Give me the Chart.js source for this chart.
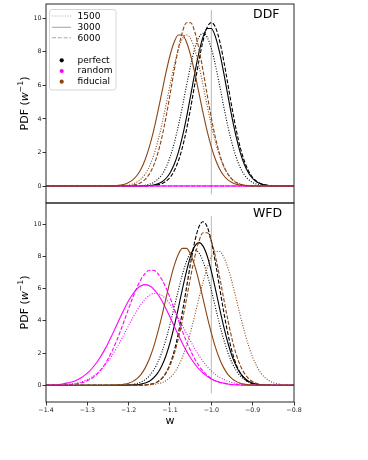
<!DOCTYPE html>
<html><head><meta charset="utf-8">
<script src="https://cdn.jsdelivr.net/npm/chart.js@4.4.1/dist/chart.umd.min.js"></script>
<style>
html,body{margin:0;padding:0;background:#fff;}
#wrap{position:relative;width:368px;height:460px;overflow:hidden;background:#fff;}
#c1{position:absolute;left:0;top:0;}
#c2{position:absolute;left:0;top:200px;}
</style></head><body>
<div id="wrap"><canvas id="c1" width="368" height="204"></canvas><canvas id="c2" width="368" height="260"></canvas></div>
<script>
// ---------- DATA ----------
const w = [-1.40,-1.39,-1.38,-1.37,-1.36,-1.35,-1.34,-1.33,-1.32,-1.31,
-1.30,-1.29,-1.28,-1.27,-1.26,-1.25,-1.24,-1.23,-1.22,-1.21,
-1.20,-1.19,-1.18,-1.17,-1.16,-1.15,-1.14,-1.13,-1.12,-1.11,
-1.10,-1.09,-1.08,-1.07,-1.06,-1.05,-1.04,-1.03,-1.02,-1.01,
-1.00,-0.99,-0.98,-0.97,-0.96,-0.95,-0.94,-0.93,-0.92,-0.91,
-0.90,-0.89,-0.88,-0.87,-0.86,-0.85,-0.84,-0.83,-0.82,-0.81,
-0.80];

// DDF panel
const ddfPerfect1500 = [0,0,0,0,0,0,0,0,0,0, 0,0,0,0,0,0,0,0,0,0,
0,0,0.01,0.03,0.05,0.11,0.21,0.39,0.67,1.10,
1.72,2.54,3.56,4.74,6.00,7.20,8.20,8.87,9.10,8.87,
8.20,7.20,6.00,4.74,3.56,2.54,1.72,1.10,0.67,0.39,
0.21,0.11,0.05,0.03,0.01,0,0,0,0,0, 0];
const ddfPerfect3000 = [0,0,0,0,0,0,0,0,0,0, 0,0,0,0,0,0,0,0,0,0,
0,0,0,0,0.01,0.03,0.06,0.13,0.24,0.45,
0.78,1.28,1.99,2.94,4.09,5.40,6.74,7.96,8.89,9.39,
9.39,8.89,7.96,6.74,5.40,4.09,2.94,1.99,1.28,0.78,
0.45,0.24,0.13,0.06,0.03,0.01,0,0,0,0, 0];
const ddfPerfect6000 = [0,0,0,0,0,0,0,0,0,0, 0,0,0,0,0,0,0,0,0,0,
0,0,0,0,0,0.01,0.03,0.07,0.14,0.28,
0.51,0.90,1.48,2.30,3.37,4.66,6.08,7.47,8.66,9.46,
9.74,9.46,8.66,7.47,6.08,4.66,3.37,2.30,1.48,0.90,
0.51,0.28,0.14,0.07,0.03,0.01,0,0,0,0, 0];
const ddfRandom1500 = [0,0,0,0,0,0,0,0,0,0, 0,0,0,0,0,0,0,0,0,0, 0,0,0,0,0,0,0,0,0,0,
0,0,0,0,0,0,0,0,0,0, 0,0,0,0,0,0,0,0,0,0, 0,0,0,0,0,0,0,0,0,0, 0];
const ddfRandom3000 = [0,0,0,0,0,0,0,0,0,0, 0,0,0,0,0,0,0,0,0,0, 0,0,0,0,0,0,0,0,0,0,
0,0,0,0,0,0,0,0,0,0, 0,0,0,0,0,0,0,0,0,0, 0,0,0,0,0,0,0,0,0,0, 0];
const ddfRandom6000 = [0,0,0,0,0,0,0,0,0,0, 0,0,0,0,0,0,0,0,0,0, 0,0,0,0,0,0,0,0,0,0,
0,0,0,0,0,0,0,0,0,0, 0,0,0,0,0,0,0,0,0,0, 0,0,0,0,0,0,0,0,0,0, 0];
const ddfFiducial1500 = [0,0,0,0,0,0,0,0,0,0,
0,0,0,0,0,0,0,0.01,0.01,0.03,
0.06,0.13,0.24,0.42,0.72,1.16,1.79,2.61,3.63,4.79,
6.01,7.17,8.14,8.78,9.00,8.78,8.14,7.17,6.01,4.79,
3.63,2.61,1.79,1.16,0.72,0.42,0.24,0.13,0.06,0.03,
0.01,0.01,0,0,0,0,0,0,0,0, 0];
const ddfFiducial3000 = [0,0,0,0,0,0,0,0,0,0,
0,0,0,0,0,0.01,0.01,0.03,0.06,0.11,
0.21,0.37,0.63,1.02,1.58,2.33,3.26,4.36,5.55,6.73,
7.78,8.57,9.00,9.00,8.57,7.78,6.73,5.55,4.36,3.26,
2.33,1.58,1.02,0.63,0.37,0.21,0.11,0.06,0.03,0.01,
0.01,0,0,0,0,0,0,0,0,0, 0];
const ddfFiducial6000 = [0,0,0,0,0,0,0,0,0,0,
0,0,0,0,0,0,0,0,0,0.01,
0.02,0.05,0.10,0.21,0.40,0.71,1.20,1.91,2.87,4.07,
5.44,6.87,8.17,9.18,9.73,9.73,9.18,8.17,6.87,5.44,
4.07,2.87,1.91,1.20,0.71,0.40,0.21,0.10,0.05,0.02,
0.01,0,0,0,0,0,0,0,0,0, 0];

// WFD panel
const wfdPerfect1500 = [0,0,0,0,0,0,0,0,0,0,
0,0,0,0,0,0,0,0,0.01,0.01,
0.03,0.06,0.11,0.20,0.35,0.58,0.92,1.40,2.03,2.84,
3.78,4.83,5.89,6.88,7.69,8.22,8.40,8.22,7.69,6.88,
5.89,4.83,3.78,2.84,2.03,1.40,0.92,0.58,0.35,0.20,
0.11,0.06,0.03,0.01,0.01,0,0,0,0,0, 0];
const wfdPerfect3000 = [0,0,0,0,0,0,0,0,0,0, 0,0,0,0,0,0,0,0,0,0,
0.01,0.02,0.03,0.07,0.14,0.25,0.45,0.75,1.20,1.82,
2.64,3.64,4.78,5.97,7.09,8.03,8.64,8.86,8.64,8.03,
7.09,5.97,4.78,3.64,2.64,1.82,1.20,0.75,0.45,0.25,
0.14,0.07,0.03,0.02,0.01,0,0,0,0,0, 0];
const wfdPerfect6000 = [0,0,0,0,0,0,0,0,0,0, 0,0,0,0,0,0,0,0,0,0,
0,0,0,0.01,0.02,0.05,0.10,0.21,0.41,0.76,
1.31,2.11,3.21,4.56,6.08,7.61,8.94,9.84,10.16,9.84,
8.94,7.61,6.08,4.56,3.21,2.11,1.31,0.76,0.41,0.21,
0.10,0.05,0.02,0.01,0,0,0,0,0,0, 0];
const wfdRandom1500 = [0,0.01,0.01,0.02,0.03,0.05,0.08,0.12,0.17,0.25,
0.36,0.49,0.67,0.89,1.16,1.48,1.85,2.27,2.73,3.22,
3.71,4.19,4.64,5.04,5.36,5.58,5.70,5.70,5.58,5.36,
5.04,4.64,4.19,3.71,3.22,2.73,2.27,1.85,1.48,1.16,
0.89,0.67,0.49,0.36,0.25,0.17,0.12,0.08,0.05,0.03,
0.02,0.01,0.01,0,0,0,0,0,0,0, 0];
const wfdRandom3000 = [0.01,0.02,0.03,0.05,0.08,0.13,0.19,0.27,0.39,0.55,
0.75,1.01,1.32,1.69,2.12,2.60,3.13,3.68,4.24,4.77,
5.26,5.67,5.99,6.18,6.25,6.18,5.99,5.67,5.26,4.77,
4.24,3.68,3.13,2.60,2.12,1.69,1.32,1.01,0.75,0.55,
0.39,0.27,0.19,0.13,0.08,0.05,0.03,0.02,0.01,0.01,
0,0,0,0,0,0,0,0,0,0, 0];
const wfdRandom6000 = [0,0,0,0.01,0.01,0.03,0.04,0.07,0.12,0.18,
0.28,0.42,0.62,0.88,1.21,1.63,2.13,2.71,3.36,4.06,
4.77,5.45,6.07,6.58,6.95,7.14,7.14,6.95,6.58,6.07,
5.45,4.77,4.06,3.36,2.71,2.13,1.63,1.21,0.88,0.62,
0.42,0.28,0.18,0.12,0.07,0.04,0.03,0.01,0.01,0,
0,0,0,0,0,0,0,0,0,0, 0];
const wfdFiducial1500 = [0,0,0,0,0,0,0,0,0,0, 0,0,0,0,0,0,0,0,0,0,
0,0,0,0,0.01,0.02,0.05,0.09,0.16,0.28,
0.47,0.76,1.18,1.74,2.47,3.34,4.34,5.39,6.41,7.30,
7.96,8.31,8.31,7.96,7.30,6.41,5.39,4.34,3.34,2.47,
1.74,1.18,0.76,0.47,0.28,0.16,0.09,0.05,0.02,0.01, 0];
const wfdFiducial3000 = [0,0,0,0,0,0,0,0,0,0,
0,0,0,0,0,0,0.01,0.02,0.03,0.07,
0.13,0.24,0.41,0.68,1.08,1.63,2.35,3.25,4.27,5.37,
6.46,7.41,8.12,8.50,8.50,8.12,7.41,6.46,5.37,4.27,
3.25,2.35,1.63,1.08,0.68,0.41,0.24,0.13,0.07,0.03,
0.02,0.01,0,0,0,0,0,0,0,0, 0];
const wfdFiducial6000 = [0,0,0,0,0,0,0,0,0,0, 0,0,0,0,0,0,0,0,0,0,
0,0,0,0.01,0.02,0.05,0.11,0.22,0.42,0.74,
1.23,1.94,2.88,4.05,5.37,6.74,7.99,8.95,9.47,9.47,
8.95,7.99,6.74,5.37,4.05,2.88,1.94,1.23,0.74,0.42,
0.22,0.11,0.05,0.02,0.01,0,0,0,0,0, 0];

const xTickValues = [-1.4,-1.3,-1.2,-1.1,-1.0,-0.9,-0.8];
const xTickLabels = ['\u22121.4','\u22121.3','\u22121.2','\u22121.1','\u22121.0','\u22120.9','\u22120.8'];
const yTickValues = [0,2,4,6,8,10];
const yTickLabels = ['0','2','4','6','8','10'];
const refLineW = [-1.0,-1.0];
const refLineY = [-0.5,10.5];
const nObs = ['1500','3000','6000'];
const selections = ['perfect','random','fiducial'];
const panelNames = ['DDF','WFD'];

// ---------- STYLE ----------
const FONT = '"DejaVu Sans", "Liberation Sans", sans-serif';
Chart.defaults.font.family = FONT;
const colors = {perfect:'#000000', random:'#ff00ff', fiducial:'#8b4513'};
const dashes = {'1500':[1,1.6],'3000':[],'6000':[4,1.8]};

const series = {
  DDF: {perfect:{'1500':ddfPerfect1500,'3000':ddfPerfect3000,'6000':ddfPerfect6000},
        random:{'1500':ddfRandom1500,'3000':ddfRandom3000,'6000':ddfRandom6000},
        fiducial:{'1500':ddfFiducial1500,'3000':ddfFiducial3000,'6000':ddfFiducial6000}},
  WFD: {perfect:{'1500':wfdPerfect1500,'3000':wfdPerfect3000,'6000':wfdPerfect6000},
        random:{'1500':wfdRandom1500,'3000':wfdRandom3000,'6000':wfdRandom6000},
        fiducial:{'1500':wfdFiducial1500,'3000':wfdFiducial3000,'6000':wfdFiducial6000}}
};

function frameAndText(panelName, withLegend){
  return {id:'deco'+panelName, afterDraw(chart){
    const ctx = chart.ctx, a = chart.chartArea;
    ctx.save();
    // frame
    ctx.strokeStyle = '#262626'; ctx.lineWidth = 1;
    ctx.strokeRect(a.left, a.top, a.right - a.left, a.bottom - a.top);
    // panel name
    ctx.fillStyle = '#000'; ctx.font = '12.5px ' + FONT; ctx.textAlign = 'left'; ctx.textBaseline = 'middle';
    ctx.fillText(panelName, 253, a.top + 11);
    // y title  PDF (w^-1)
    const cy = (a.top + a.bottom) / 2;
    const parts = [
      {t:'PDF (', f:'11px ' + FONT, dy:0},
      {t:'w', f:'italic 11px ' + FONT, dy:0},
      {t:'\u22121', f:'7.7px ' + FONT, dy:-4},
      {t:')', f:'11px ' + FONT, dy:0}
    ];
    ctx.translate(25, cy); ctx.rotate(-Math.PI/2);
    let tot = 0;
    parts.forEach(p => { ctx.font = p.f; p.w = ctx.measureText(p.t).width; tot += p.w; });
    let x = -tot/2;
    parts.forEach(p => { ctx.font = p.f; ctx.fillText(p.t, x, p.dy); x += p.w; });
    ctx.restore();
    if (withLegend) {
      ctx.save();
      const bx = 49.5, by = 9.5, bw = 66.5, bh = 80.5, r = 2.5;
      ctx.beginPath();
      ctx.moveTo(bx + r, by); ctx.lineTo(bx + bw - r, by); ctx.quadraticCurveTo(bx + bw, by, bx + bw, by + r);
      ctx.lineTo(bx + bw, by + bh - r); ctx.quadraticCurveTo(bx + bw, by + bh, bx + bw - r, by + bh);
      ctx.lineTo(bx + r, by + bh); ctx.quadraticCurveTo(bx, by + bh, bx, by + bh - r);
      ctx.lineTo(bx, by + r); ctx.quadraticCurveTo(bx, by, bx + r, by); ctx.closePath();
      ctx.fillStyle = 'rgba(255,255,255,0.85)'; ctx.fill();
      ctx.strokeStyle = '#d6d6d6'; ctx.lineWidth = 1; ctx.stroke();
      ctx.font = '9px ' + FONT; ctx.textAlign = 'left'; ctx.textBaseline = 'middle';
      const rowsA = [16, 27.3, 37.7];
      nObs.forEach((s, i) => {
        ctx.beginPath(); ctx.setLineDash(dashes[s]); ctx.strokeStyle = '#a9a9a9'; ctx.lineWidth = 1.1;
        ctx.moveTo(52, rowsA[i]); ctx.lineTo(71, rowsA[i]); ctx.stroke(); ctx.setLineDash([]);
        ctx.fillStyle = '#000'; ctx.fillText(s, 77.5, rowsA[i] + 0.5);
      });
      const rowsB = [60.3, 71, 81.7];
      selections.forEach((s, i) => {
        ctx.beginPath(); ctx.arc(61.7, rowsB[i], 2.1, 0, Math.PI*2); ctx.fillStyle = colors[s]; ctx.fill();
        ctx.fillStyle = '#000'; ctx.fillText(s, 77.5, rowsB[i]);
      });
      ctx.restore();
    }
  }};
}

function makePanel(canvasId, panelName, yMin, yMax, showX, padTop, padBottom, withLegend){
  const datasets = [];
  ['fiducial','random','perfect'].forEach(sel => {
    nObs.forEach(n => {
      datasets.push({label: sel + ' ' + n, data: series[panelName][sel][n], borderColor: colors[sel],
        borderWidth: 1.1, borderDash: dashes[n], pointRadius: 0, fill: false, cubicInterpolationMode: 'monotone'});
    });
  });
  datasets.push({label:'w = -1', data: refLineW.map((xv, i) => ({x: xv, y: refLineY[i]})),
    borderColor:'#b8b8b8', borderWidth:1, pointRadius:0, fill:false});
  return new Chart(document.getElementById(canvasId), {
    type:'line',
    data:{labels: w, datasets},
    options:{
      responsive:false, animation:false, devicePixelRatio:1, events:[],
      layout:{padding:{left:0, right:74, top:padTop, bottom:padBottom}},
      plugins:{legend:{display:false}, tooltip:{enabled:false}},
      scales:{
        x:{type:'linear', min:-1.4, max:-0.8, display: showX,
          afterBuildTicks: s => { s.ticks = xTickValues.map(v => ({value:v})); },
          afterFit: s => { if (showX) { s.height = 58; s.paddingLeft = 0; s.paddingRight = 0; } else { s.height = 0; } },
          ticks:{callback:(v, i) => xTickLabels[i], font:{size:6.3}, color:'#222', padding:1, maxRotation:0, autoSkip:false},
          grid:{drawOnChartArea:false, tickLength:3.5, tickWidth:0.8, tickColor:'#000'},
          border:{display:false},
          title:{display:true, text:'w', font:{size:11}, color:'#000', padding:{top:0, bottom:32.5}}
        },
        y:{type:'linear', min:yMin, max:yMax,
          afterBuildTicks: s => { s.ticks = yTickValues.map(v => ({value:v})); },
          afterFit: s => { s.width = 46; s.paddingTop = 0; s.paddingBottom = 0; },
          ticks:{callback:(v, i) => yTickLabels[i], font:{size:6.3}, color:'#222', padding:1, autoSkip:false},
          grid:{drawOnChartArea:false, tickLength:3.5, tickWidth:0.8, tickColor:'#000'},
          border:{display:false}
        }
      }
    },
    plugins:[frameAndText(panelName, withLegend)]
  });
}

makePanel('c1', panelNames[0], -1.01, 10.85, false, 4, 1, true);
makePanel('c2', panelNames[1], -1.04, 11.32, true, 3, 0, false);
</script>
</body></html>
